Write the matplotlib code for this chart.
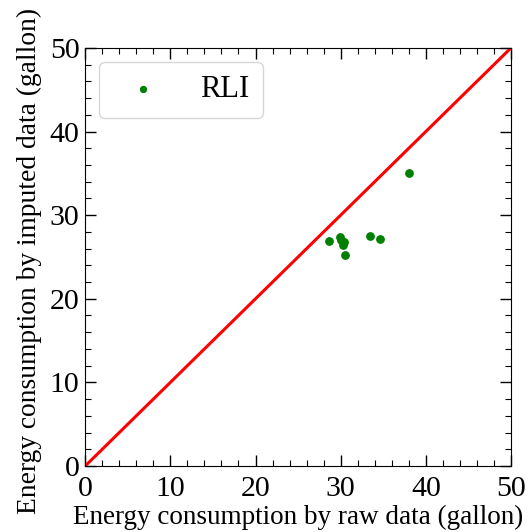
import matplotlib
matplotlib.use("Agg")
import matplotlib.pyplot as plt
from matplotlib.ticker import MultipleLocator
import numpy as np

# energy consumption (gallon): raw vs imputed
raw_data = [38.0, 28.6, 29.9, 30.0, 30.4, 30.3, 30.5, 33.4, 34.6]
imputed_data = [35.0, 26.9, 27.4, 27.0, 26.8, 26.4, 25.2, 27.5, 27.1]
series_label = "RLI"
diag = [0, 50]

plt.rcParams['font.family'] = ['Liberation Serif', 'DejaVu Serif']

fig = plt.figure(figsize=(5.29, 5.32), dpi=100)
ax = fig.add_axes([0.161, 0.124, 0.805, 0.786])

ax.scatter(raw_data, imputed_data, s=28, color='green', label=series_label, zorder=3)
ax.plot(diag, diag, color='red', linewidth=2.2)

ax.set_xlim(0, 50)
ax.set_ylim(0, 50)
ax.xaxis.set_major_locator(MultipleLocator(10))
ax.yaxis.set_major_locator(MultipleLocator(10))
ax.xaxis.set_minor_locator(MultipleLocator(2))
ax.yaxis.set_minor_locator(MultipleLocator(2))
ax.tick_params(which='both', direction='in', top=True, right=True, labelsize=21.5)
ax.tick_params(which='major', length=8, width=1)
ax.tick_params(which='minor', length=4, width=0.8)
ax.tick_params(axis='x', which='major', pad=7)
ax.tick_params(axis='y', which='major', pad=4)

ax.set_xlabel("Energy consumption by raw data (gallon)", fontsize=19.5)
ax.set_ylabel("Energy consumption by imputed data (gallon)", fontsize=19.8)
ax.xaxis.set_label_coords(0.5, -0.092)
ax.yaxis.set_label_coords(-0.102, 0.49)

ax.legend(loc='upper left', fontsize=22, handlelength=2.0, handletextpad=0.85,
          borderpad=0.45, borderaxespad=0.45, markerscale=0.8)

fig.savefig("out.png", dpi=100)
